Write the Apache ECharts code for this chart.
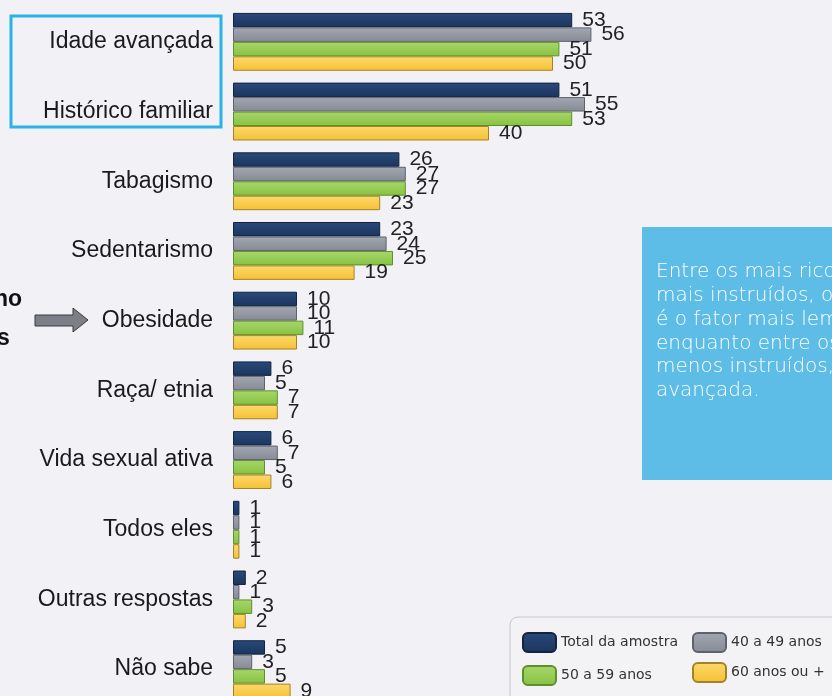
<!DOCTYPE html>
<html>
<head>
<meta charset="utf-8">
<script src="https://cdn.jsdelivr.net/npm/echarts@6/dist/echarts.min.js"></script>
<style>
  html, body { margin: 0; padding: 0; background: #f1f1f6; overflow: hidden; }
  #chart { width: 832px; height: 712px; }
</style>
</head>
<body>
<div id="chart"></div>
<script>
const categories = ['Idade avançada', 'Histórico familiar', 'Tabagismo', 'Sedentarismo', 'Obesidade',
  'Raça/ etnia', 'Vida sexual ativa', 'Todos eles', 'Outras respostas', 'Não sabe']
const seriesNames = ['Total da amostra', '40 a 49 anos', '50 a 59 anos', '60 anos ou +']
const total = [53, 51, 26, 23, 10, 6, 6, 1, 2, 5]
const age40 = [56, 55, 27, 24, 10, 5, 7, 1, 1, 3]
const age50 = [51, 53, 27, 25, 11, 7, 5, 1, 3, 5]
const age60 = [50, 40, 23, 19, 10, 7, 6, 1, 2, 9]

const infoLines = ['Entre os mais ricos e', 'mais instruídos, o histórico', 'é o fator mais lembrado,',
  'enquanto entre os mais pobres', 'menos instruídos, a idade', 'avançada.']

// cores: [topo, base, borda]
const palette = [
  ['#2a4a7a', '#1b355e', '#12243f'],
  ['#a3a7b1', '#858a96', '#5e626c'],
  ['#a8d66b', '#86c240', '#5f8f2a'],
  ['#fcd96c', '#f5c133', '#a4822a']
]

const chart = echarts.init(document.getElementById('chart'))

const makeSeries = (name, data, i) => ({
  name,
  type: 'bar',
  data,
  barGap: '0%',
  barCategoryGap: '17%',
  itemStyle: {
    color: new echarts.graphic.LinearGradient(0, 0, 0, 1, [
      { offset: 0, color: palette[i][0] },
      { offset: 1, color: palette[i][1] }
    ]),
    borderColor: palette[i][2],
    borderWidth: 1
  },
  label: {
    show: true,
    position: 'right',
    distance: 10,
    color: '#222',
    fontSize: 21,
    fontFamily: 'Liberation Sans'
  },
  silent: true
})

const legendText = { color: '#333', fontSize: 14, fontFamily: 'DejaVu Sans' }
const legendItem = (name, left, top) => ({
  data: [name],
  left, top,
  padding: 0,
  itemWidth: 33, itemHeight: 19,
  icon: 'roundRect',
  textStyle: legendText
})

const option = {
  backgroundColor: '#f1f1f6',
  animation: false,
  grid: { left: 233, top: 7, right: 23, bottom: 8 },
  xAxis: {
    type: 'value',
    min: 0,
    max: 90,
    show: false
  },
  yAxis: {
    type: 'category',
    data: categories,
    inverse: true,
    axisLine: { show: false },
    axisTick: { show: false },
    axisLabel: {
      margin: 20,
      color: '#1a1a1a',
      fontSize: 23,
      fontFamily: 'Liberation Sans'
    }
  },
  legend: [
    legendItem(seriesNames[0], 522, 632),
    legendItem(seriesNames[1], 692, 632),
    legendItem(seriesNames[2], 522, 665),
    legendItem(seriesNames[3], 692, 662)
  ],
  graphic: [
    {
      type: 'rect', z: -1,
      shape: { x: 510, y: 617, width: 340, height: 100, r: 8 },
      style: { fill: '#f3f3f6', stroke: '#c8c8cc', lineWidth: 1 }
    },
    {
      type: 'rect',
      shape: { x: 11, y: 16, width: 210, height: 111 },
      style: { fill: 'none', stroke: '#29b3e6', lineWidth: 3 }
    },
    {
      type: 'polygon',
      shape: { points: [[35, 315], [73, 315], [73, 308], [88, 320], [73, 332], [73, 326], [35, 326]] },
      style: { fill: '#7c7e88', stroke: '#3a3a40', lineWidth: 1 }
    },
    {
      type: 'text', x: -6, y: 288,
      style: { text: 'no', fill: '#111', font: 'bold 23px Liberation Sans' }
    },
    {
      type: 'text', x: -3, y: 327,
      style: { text: 's', fill: '#111', font: 'bold 23px Liberation Sans' }
    },
    {
      type: 'rect',
      shape: { x: 642, y: 227, width: 220, height: 253 },
      style: { fill: '#5dbde7' }
    },
    {
      type: 'text', x: 656, y: 260,
      style: {
        text: infoLines.join('\n'),
        fill: '#ffffff',
        font: '200 20px DejaVu Sans',
        lineHeight: 23.8
      }
    }
  ],
  series: [
    makeSeries(seriesNames[0], total, 0),
    makeSeries(seriesNames[1], age40, 1),
    makeSeries(seriesNames[2], age50, 2),
    makeSeries(seriesNames[3], age60, 3)
  ]
}

chart.setOption(option)
</script>
</body>
</html>
